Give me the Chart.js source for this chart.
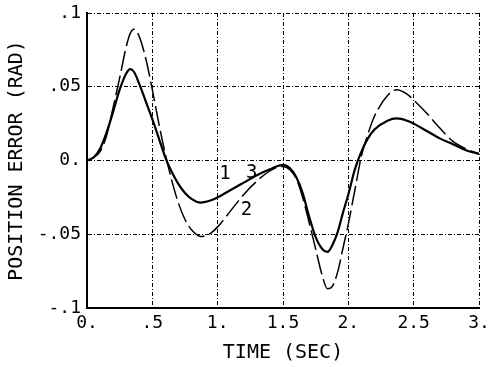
<!DOCTYPE html>
<html>
<head>
<meta charset="utf-8">
<script src="https://cdn.jsdelivr.net/npm/chart.js@4"></script>
<style>
  html, body { margin: 0; padding: 0; background: #fff; }
  #wrap { width: 489px; height: 367px; }
</style>
</head>
<body>
<div id="wrap"><canvas id="chart" width="489" height="367"></canvas></div>
<script>
const time = [0, 0.05, 0.1, 0.15, 0.2, 0.25, 0.3, 0.33, 0.36, 0.4, 0.45, 0.5, 0.55, 0.6, 0.65, 0.7, 0.75, 0.8, 0.87, 0.95,
  1.0, 1.1, 1.2, 1.3, 1.4, 1.5, 1.55, 1.6, 1.65, 1.7, 1.75, 1.8, 1.84, 1.88, 1.92, 1.96, 2.0, 2.05, 2.1, 2.15,
  2.2, 2.3, 2.37, 2.45, 2.5, 2.6, 2.7, 2.8, 2.9, 3.0];

// curves 1 and 3 (solid, they lie on top of each other)
const error13 = [0, 0.002, 0.008, 0.019, 0.033, 0.048, 0.059, 0.062, 0.060, 0.052, 0.040, 0.028, 0.015, 0.002, -0.008, -0.016, -0.022, -0.026, -0.0285, -0.027,
  -0.025, -0.020, -0.015, -0.010, -0.006, -0.003, -0.005, -0.011, -0.022, -0.038, -0.052, -0.060, -0.062, -0.057, -0.048, -0.035, -0.023, -0.006, 0.006, 0.015,
  0.021, 0.027, 0.0285, 0.027, 0.025, 0.020, 0.015, 0.011, 0.007, 0.0045];

// curve 2 (dashed)
const error2 = [0, 0.002, 0.006, 0.017, 0.036, 0.056, 0.077, 0.086, 0.089, 0.084, 0.069, 0.048, 0.025, 0.004, -0.014, -0.029, -0.040, -0.047, -0.0515, -0.049,
  -0.045, -0.034, -0.023, -0.014, -0.007, -0.004, -0.006, -0.012, -0.025, -0.042, -0.060, -0.078, -0.087, -0.085, -0.075, -0.059, -0.043, -0.020, 0.003, 0.018,
  0.030, 0.044, 0.048, 0.045, 0.041, 0.032, 0.022, 0.013, 0.008, 0.0045];

const xTicks = [0, 0.5, 1, 1.5, 2, 2.5, 3];
const xTickText = ["0.", ".5", "1.", "1.5", "2.", "2.5", "3."];
const yTicks = [-0.1, -0.05, 0, 0.05, 0.1];
const yTickText = ["-.1", "-.05", "0.", ".05", ".1"];

// curve numbers written on the plot, in data units
const curveLabels = ["1", "3", "2"];
const labelX = [1.055, 1.26, 1.22];
const labelY = [-0.0095, -0.0085, -0.0335];

const font = "'DejaVu Sans Mono', 'Liberation Mono', monospace";

const toPoints = (ys) => time.map((t, i) => ({ x: t, y: ys[i] }));

const curveNumbers = {
  id: "curveNumbers",
  afterDatasetsDraw(chart) {
    const { ctx, scales } = chart;
    ctx.save();
    ctx.font = "19px " + font;
    ctx.fillStyle = "#000";
    ctx.textAlign = "center";
    ctx.textBaseline = "middle";
    curveLabels.forEach((txt, i) => {
      ctx.fillText(txt, scales.x.getPixelForValue(labelX[i]), scales.y.getPixelForValue(labelY[i]));
    });
    ctx.restore();
  }
};

const gridStyle = { color: "#000", lineWidth: 1, drawTicks: false };

new Chart(document.getElementById("chart"), {
  type: "line",
  data: {
    datasets: [
      {
        label: "1, 3",
        data: toPoints(error13),
        borderColor: "#000",
        borderWidth: 2.2,
        pointRadius: 0,
        tension: 0.4,
        cubicInterpolationMode: "monotone"
      },
      {
        label: "2",
        data: toPoints(error2),
        borderColor: "#000",
        borderWidth: 1.5,
        borderDash: [20, 5],
        pointRadius: 0,
        tension: 0.4,
        cubicInterpolationMode: "monotone"
      }
    ]
  },
  plugins: [curveNumbers],
  options: {
    responsive: false,
    animation: false,
    layout: { padding: { top: 13, right: 10, left: 0, bottom: 0 } },
    plugins: { legend: { display: false }, tooltip: { enabled: false } },
    scales: {
      x: {
        type: "linear",
        min: 0,
        max: 3,
        afterBuildTicks: (axis) => { axis.ticks = xTicks.map(v => ({ value: v })); },
        afterFit: (axis) => {
          axis.height = 59;
          axis.paddingLeft = 0;
          axis.paddingRight = 0;
        },
        ticks: {
          color: "#000",
          padding: 5,
          maxRotation: 0,
          font: { family: font, size: 18 },
          callback: (v) => xTickText[xTicks.indexOf(v)]
        },
        grid: gridStyle,
        border: { display: true, color: "#000", width: 2, dash: [4, 2, 1, 2] },
        title: {
          display: true,
          text: "TIME (SEC)",
          color: "#000",
          font: { family: font, size: 20 },
          padding: { top: 0, bottom: 2 }
        }
      },
      y: {
        type: "linear",
        min: -0.1,
        max: 0.1,
        afterBuildTicks: (axis) => { axis.ticks = yTicks.map(v => ({ value: v })); },
        afterFit: (axis) => {
          axis.width = 87;
          axis.paddingTop = 0;
          axis.paddingBottom = 0;
        },
        ticks: {
          color: "#000",
          padding: 6,
          font: { family: font, size: 18 },
          callback: (v) => yTickText[yTicks.findIndex(t => Math.abs(t - v) < 1e-9)]
        },
        grid: gridStyle,
        border: { display: true, color: "#000", width: 2, dash: [4, 2, 1, 2] },
        title: {
          display: true,
          text: "POSITION ERROR (RAD)",
          color: "#000",
          font: { family: font, size: 20 },
          padding: { top: 5, bottom: 0 }
        }
      }
    }
  }
});
</script>
</body>
</html>
